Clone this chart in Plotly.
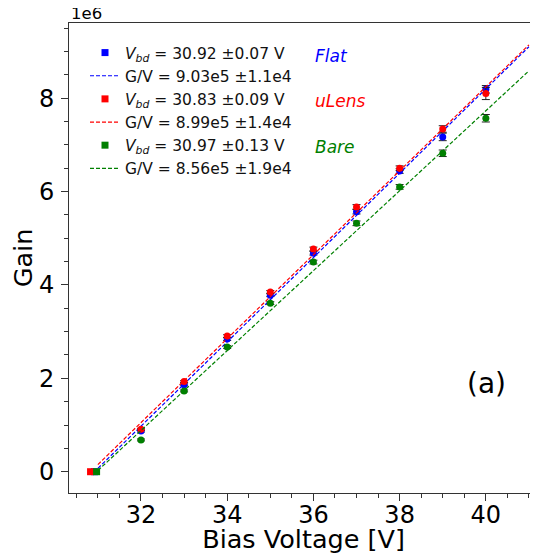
import plotly.graph_objects as go

# ---- data ----
bias_v = [32, 33, 34, 35, 36, 37, 38, 39, 40]
gain_flat = [0.87e6, 1.86e6, 2.84e6, 3.78e6, 4.68e6, 5.57e6, 6.44e6, 7.17e6, 8.19e6]
gain_ulens = [0.91e6, 1.93e6, 2.905e6, 3.85e6, 4.77e6, 5.67e6, 6.50e6, 7.34e6, 8.10e6]
gain_bare = [0.68e6, 1.73e6, 2.67e6, 3.61e6, 4.49e6, 5.32e6, 6.10e6, 6.82e6, 7.57e6]
err_flat = [0.02e6, 0.02e6, 0.03e6, 0.03e6, 0.04e6, 0.05e6, 0.05e6, 0.08e6, 0.08e6]
err_ulens = [0.02e6, 0.02e6, 0.03e6, 0.03e6, 0.04e6, 0.05e6, 0.05e6, 0.07e6, 0.13e6]
err_bare = [0.02e6, 0.02e6, 0.03e6, 0.03e6, 0.04e6, 0.05e6, 0.05e6, 0.07e6, 0.08e6]

names = ["Flat", "uLens", "Bare"]
vbd = [30.92, 30.83, 30.97]
vbd_err = ["0.07", "0.09", "0.13"]
slope = [9.03e5, 8.99e5, 8.56e5]
slope_txt = ["9.03e5", "8.99e5", "8.56e5"]
slope_err_txt = ["1.1e4", "1.4e4", "1.9e4"]
fit_range = [31.0, 41.0]

y_tickvals = [0, 2e6, 4e6, 6e6, 8e6]
y_ticktext = ["0", "2", "4", "6", "8"]
x_tickvals = [32, 34, 36, 38, 40]

colors = ["#0000ff", "#ff0000", "#008000"]
gains = [gain_flat, gain_ulens, gain_bare]
errs = [err_flat, err_ulens, err_bare]

FONT = "DejaVu Sans"
# page body has an 8px margin: compensate so the plot lands where the reference has it
OFF = 8
W, H = 538 - OFF, 554 - OFF
L, R, T, B = 69 - OFF, 0, 23 - OFF, 61
PW, PH = W - L - R, H - T - B


def px_x(px):
    # px given in window pixels
    return (px - OFF - L) / PW


def px_y(py):
    return (H - B - (py - OFF)) / PH


fig = go.Figure()

for i in range(3):
    c = colors[i]
    # measured points with error bars
    fig.add_trace(go.Scatter(
        x=bias_v, y=gains[i], mode="markers",
        marker=dict(symbol="circle", size=7, color=c),
        error_y=dict(type="data", array=errs[i], color="#222222", thickness=1, width=4),
        showlegend=False, hoverinfo="skip"))
    # breakdown point (gain 0)
    fig.add_trace(go.Scatter(
        x=[vbd[i]], y=[0], mode="markers",
        marker=dict(symbol="square", size=7, color=c),
        name=f"<i>V</i><sub><i>bd</i></sub> = {vbd[i]:.2f} \u00b1{vbd_err[i]} V",
        legendrank=10 * i + 1))
    # linear fit
    fx = fit_range
    fy = [slope[i] * (v - vbd[i]) for v in fx]
    fig.add_trace(go.Scatter(
        x=fx, y=fy, mode="lines",
        line=dict(color=c, width=1.2, dash="4px,2px"),
        name=f"G/V = {slope_txt[i]} \u00b1{slope_err_txt[i]}",
        legendrank=10 * i + 2))

# series labels
label_y = [56, 101, 147]
for i in range(3):
    fig.add_annotation(
        x=px_x(313), y=px_y(label_y[i]), xref="paper", yref="paper",
        text=f"<i>{names[i]}</i>", showarrow=False, xanchor="left", yanchor="middle",
        font=dict(family=FONT, size=17, color=colors[i]))

fig.add_annotation(
    x=px_x(486), y=px_y(383), xref="paper", yref="paper", text="(a)",
    showarrow=False, xanchor="center", yanchor="middle",
    font=dict(family=FONT, size=28, color="black"))

fig.add_annotation(
    x=0, y=px_y(14), xref="paper", yref="paper", text="1e6",
    showarrow=False, xanchor="left", yanchor="middle",
    font=dict(family=FONT, size=16.5, color="black"))

axis_common = dict(
    showline=True, linecolor="#333333", linewidth=1, showgrid=False, zeroline=False,
    ticks="outside", tickcolor="#333333", tickwidth=1,
    tickfont=dict(family=FONT, size=24, color="black"))

fig.update_xaxes(
    **axis_common, range=[30.33, 41.21], mirror=True,
    tickmode="array", tickvals=x_tickvals, ticklen=7, ticklabelstandoff=-7,
    minor=dict(tickmode="linear", tick0=0, dtick=0.5, ticks="outside", ticklen=4,
               tickcolor="#333333", tickwidth=1, showgrid=False),
    title=dict(text="Bias Voltage [V]", font=dict(family=FONT, size=25.5, color="black"),
               standoff=4))

fig.update_yaxes(
    **axis_common, range=[-0.456e6, 9.61e6],
    tickmode="array", tickvals=y_tickvals, ticktext=y_ticktext, ticklen=7,
    ticklabelstandoff=2,
    minor=dict(tickmode="linear", tick0=0, dtick=5e5, ticks="outside", ticklen=4,
               tickcolor="#333333", tickwidth=1, showgrid=False),
    title=dict(text="Gain", font=dict(family=FONT, size=25.5, color="black"), standoff=3))

fig.update_layout(
    width=W, height=H,
    margin=dict(l=L, r=R, t=T, b=B, pad=0, autoexpand=False),
    paper_bgcolor="white", plot_bgcolor="white",
    font=dict(family=FONT, color="black"),
    legend=dict(x=px_x(85), y=px_y(36), xanchor="left", yanchor="top",
                bgcolor="rgba(0,0,0,0)", borderwidth=0, itemwidth=30,
                font=dict(family=FONT, size=15.5, color="#111111"),
                traceorder="normal"),
)

fig.write_html("out.html")
